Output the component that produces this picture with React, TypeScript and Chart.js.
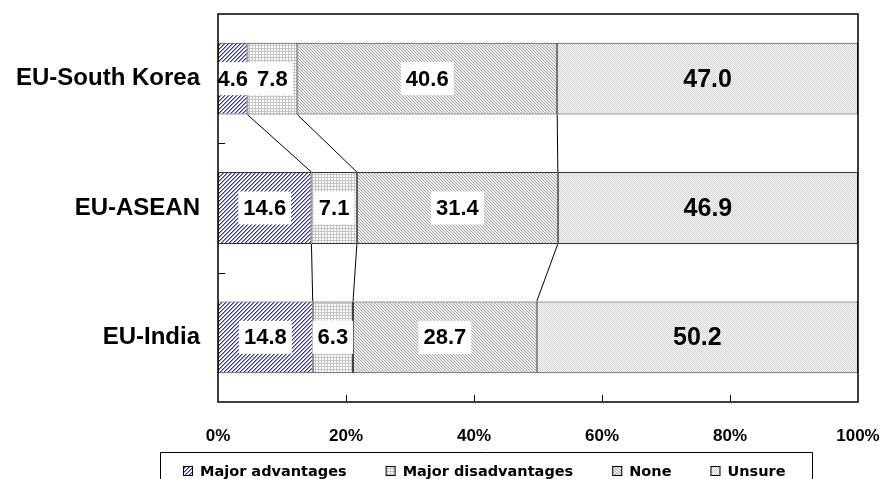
import React, { useEffect, useRef } from 'react';
import { Chart, registerables } from 'chart.js';

Chart.register(...registerables);

const categories = ['EU-South Korea', 'EU-ASEAN', 'EU-India'];
const seriesNames = ['Major advantages', 'Major disadvantages', 'None', 'Unsure'];
const majorAdvantages = [4.6, 14.6, 14.8];
const majorDisadvantages = [7.8, 7.1, 6.3];
const noneValues = [40.6, 31.4, 28.7];
const unsureValues = [47.0, 46.9, 50.2];
const xTickValues = [0, 20, 40, 60, 80, 100];

function makePattern(kind: string): CanvasPattern | string {
  const size = kind === 'adv' ? 4 : kind === 'dis' ? 3 : kind === 'none' ? 3 : 2;
  const c = document.createElement('canvas');
  c.width = size;
  c.height = size;
  const g = c.getContext('2d');
  if (!g) return '#ccc';
  for (let x = 0; x < size; x++) {
    for (let y = 0; y < size; y++) {
      let col = '#ffffff';
      if (kind === 'adv') {
        const s = (x + y) % 4;
        col = s === 3 ? '#34349f' : s === 0 ? '#9090d4' : '#ffffff';
      } else if (kind === 'dis') {
        col = x === 0 || y === 0 ? '#c4c4c4' : '#ffffff';
      } else if (kind === 'none') {
        const s = (x - y + 6) % 3;
        col = s === 0 ? '#a8a8a8' : '#ececec';
      } else {
        col = (x + y) % 2 === 0 ? '#d4d4d4' : '#f6f6f6';
      }
      g.fillStyle = col;
      g.fillRect(x, y, 1, 1);
    }
  }
  const p = g.createPattern(c, 'repeat');
  return p || '#ccc';
}

const zeroPad = (s: any) => {
  s.paddingTop = 0;
  s.paddingBottom = 0;
  s.paddingLeft = 0;
  s.paddingRight = 0;
};

const decorPlugin = {
  id: 'decor',
  afterDatasetsDraw(chart: any) {
    const ctx = chart.ctx as CanvasRenderingContext2D;
    ctx.save();
    // series lines
    ctx.strokeStyle = '#000';
    ctx.lineWidth = 1;
    for (let k = 0; k < 3; k++) {
      const meta = chart.getDatasetMeta(k);
      for (let j = 0; j < categories.length - 1; j++) {
        const a = meta.data[j];
        const b = meta.data[j + 1];
        ctx.beginPath();
        ctx.moveTo(a.x, a.y + a.height / 2);
        ctx.lineTo(b.x, b.y - b.height / 2);
        ctx.stroke();
      }
    }
    // data labels
    chart.data.datasets.forEach((ds: any, i: number) => {
      const meta = chart.getDatasetMeta(i);
      meta.data.forEach((bar: any, j: number) => {
        const txt = Number(ds.data[j]).toFixed(1);
        const cx = (bar.x + bar.base) / 2;
        const cy = bar.y;
        ctx.font = i < 3 ? 'bold 22px "Liberation Sans"' : 'bold 25px "Liberation Sans"';
        const w = ctx.measureText(txt).width;
        if (i < 3) {
          ctx.fillStyle = '#ffffff';
          ctx.fillRect(cx - w / 2 - 5, cy - 16.5, w + 10, 33);
        }
        ctx.fillStyle = '#000';
        ctx.textAlign = 'center';
        ctx.textBaseline = 'middle';
        ctx.fillText(txt, cx, cy + 1);
      });
    });
    ctx.restore();
  },
  afterDraw(chart: any) {
    const ctx = chart.ctx as CanvasRenderingContext2D;
    const { left, right, top, bottom } = chart.chartArea;
    const xs = chart.scales.x;
    const ys = chart.scales.y;
    ctx.save();
    // plot border
    ctx.strokeStyle = '#000';
    ctx.lineWidth = 1.5;
    ctx.strokeRect(left, top, right - left, bottom - top);
    // inner ticks on x axis
    ctx.lineWidth = 1;
    xTickValues.slice(1, -1).forEach((v) => {
      const px = Math.round(xs.getPixelForValue(v)) + 0.5;
      ctx.beginPath();
      ctx.moveTo(px, bottom);
      ctx.lineTo(px, bottom - 7);
      ctx.stroke();
    });
    // inner ticks on y axis between categories
    for (let j = 0; j < categories.length - 1; j++) {
      const py = Math.round((ys.getPixelForValue(j) + ys.getPixelForValue(j + 1)) / 2) + 0.5;
      ctx.beginPath();
      ctx.moveTo(left, py);
      ctx.lineTo(left + 7, py);
      ctx.stroke();
    }
    // legend
    const lx0 = 160;
    const lx1 = 812;
    const ly0 = 452.5;
    ctx.lineWidth = 1;
    ctx.strokeStyle = '#000';
    ctx.beginPath();
    ctx.moveTo(lx0 + 0.5, 490);
    ctx.lineTo(lx0 + 0.5, ly0);
    ctx.lineTo(lx1 + 0.5, ly0);
    ctx.lineTo(lx1 + 0.5, 490);
    ctx.stroke();
    ctx.font = 'bold 14.5px "DejaVu Sans"';
    ctx.textAlign = 'left';
    ctx.textBaseline = 'middle';
    let x = 183;
    const cy = 471;
    chart.data.datasets.forEach((ds: any) => {
      ctx.fillStyle = ds.backgroundColor;
      ctx.fillRect(x, cy - 5, 10, 10);
      ctx.strokeStyle = '#000';
      ctx.strokeRect(x + 0.5, cy - 4.5, 9, 9);
      ctx.fillStyle = '#000';
      ctx.fillText(ds.label, x + 17, cy + 1);
      x += 17 + ctx.measureText(ds.label).width + 39;
    });
    ctx.restore();
  },
};

export default function App() {
  const ref = useRef<HTMLCanvasElement | null>(null);
  useEffect(() => {
    const canvas = ref.current;
    if (!canvas) return;
    const patterns = ['adv', 'dis', 'none', 'unsure'].map(makePattern);
    const values = [majorAdvantages, majorDisadvantages, noneValues, unsureValues];
    const chart = new Chart(canvas, {
      type: 'bar',
      data: {
        labels: categories,
        datasets: seriesNames.map((name, i) => ({
          label: name,
          data: values[i],
          backgroundColor: patterns[i] as any,
          borderColor: '#333333',
          borderWidth: 1,
          borderSkipped: false,
          barPercentage: 0.556,
          categoryPercentage: 1.0,
        })),
      },
      options: {
        indexAxis: 'y',
        animation: false,
        responsive: false,
        devicePixelRatio: 1,
        layout: { padding: { top: 14, right: 27, left: 0, bottom: 0 } },
        plugins: { legend: { display: false }, tooltip: { enabled: false } },
        scales: {
          x: {
            stacked: true,
            min: 0,
            max: 100,
            border: { display: false },
            grid: { display: false, drawTicks: false },
            ticks: {
              stepSize: 20,
              callback: (v: any) => v + '%',
              font: { family: '"Liberation Sans"', size: 17, weight: 'bold' },
              color: '#000',
              padding: 24,
              maxRotation: 0,
            },
            afterFit: (s: any) => {
              s.height = 77;
              zeroPad(s);
            },
          },
          y: {
            stacked: true,
            border: { display: false },
            grid: { display: false, drawTicks: false },
            ticks: {
              font: { family: '"Liberation Sans"', size: 24, weight: 'bold' },
              color: '#000',
              padding: 18,
            },
            afterFit: (s: any) => {
              s.width = 218;
              zeroPad(s);
            },
          },
        },
      } as any,
      plugins: [decorPlugin],
    });
    return () => chart.destroy();
  }, []);
  return (
    <div style={{ position: 'absolute', left: 0, top: 0, width: 885, height: 479, background: '#fff' }}>
      <canvas ref={ref} width={885} height={479} style={{ display: 'block' }} />
    </div>
  );
}
